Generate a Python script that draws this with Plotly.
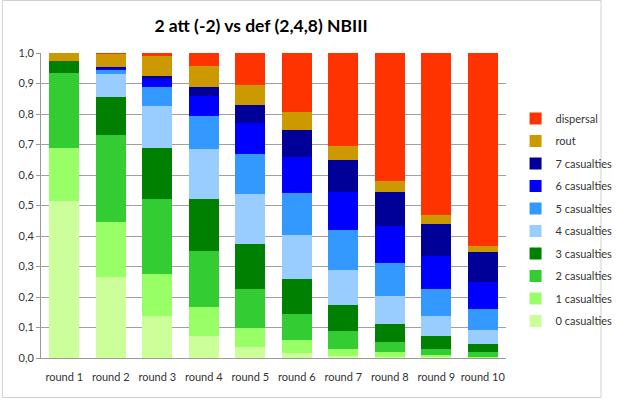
import plotly.graph_objects as go

rounds = ["round 1", "round 2", "round 3", "round 4", "round 5",
          "round 6", "round 7", "round 8", "round 9", "round 10"]

cas0 = [0.515, 0.266, 0.139, 0.071, 0.035, 0.017, 0.008, 0.004, 0.002, 0.001]
cas1 = [0.175, 0.181, 0.137, 0.097, 0.063, 0.041, 0.023, 0.015, 0.009, 0.003]
cas2 = [0.246, 0.284, 0.246, 0.184, 0.129, 0.087, 0.056, 0.034, 0.020, 0.015]
cas3 = [0.038, 0.125, 0.168, 0.169, 0.147, 0.115, 0.088, 0.059, 0.042, 0.026]
cas4 = [0.000, 0.074, 0.136, 0.165, 0.164, 0.144, 0.114, 0.092, 0.066, 0.048]
cas5 = [0.000, 0.017, 0.063, 0.108, 0.132, 0.136, 0.131, 0.109, 0.088, 0.067]
cas6 = [0.000, 0.004, 0.027, 0.065, 0.101, 0.120, 0.125, 0.121, 0.106, 0.088]
cas7 = [0.000, 0.002, 0.009, 0.029, 0.058, 0.088, 0.105, 0.111, 0.107, 0.099]
rout = [0.026, 0.046, 0.066, 0.069, 0.066, 0.058, 0.045, 0.036, 0.028, 0.020]
dispersal = [0.000, 0.001, 0.009, 0.043, 0.105, 0.194, 0.305, 0.419, 0.532, 0.633]

series = [
    ("0 casualties", cas0, "#CCFF99"),
    ("1 casualties", cas1, "#99FF66"),
    ("2 casualties", cas2, "#33CC33"),
    ("3 casualties", cas3, "#008000"),
    ("4 casualties", cas4, "#99CCFF"),
    ("5 casualties", cas5, "#3399FF"),
    ("6 casualties", cas6, "#0000FF"),
    ("7 casualties", cas7, "#000099"),
    ("rout", rout, "#CC9900"),
    ("dispersal", dispersal, "#FF3300"),
]

fig = go.Figure()
for i, (name, vals, col) in enumerate(series):
    fig.add_trace(go.Bar(x=rounds, y=vals, name=name, marker_color=col,
                         marker_line_width=0, legendgroup=name,
                         legendrank=1000 - i))

W, H = 630, 400
ml, mr, mt, mb = 41, 102, 53, 42
pw, ph = W - ml - mr, H - mt - mb

fig.update_layout(
    width=W, height=H,
    margin=dict(l=ml, r=mr, t=mt, b=mb),
    barmode="stack", bargap=0.36,
    plot_bgcolor="white", paper_bgcolor="white",
    font=dict(family="Lato, Open Sans, sans-serif", size=11, color="#222"),
    title=dict(text="<b>2 att (-2) vs def (2,4,8) NBIII</b>",
               x=261 / W, xanchor="center", y=1 - 26 / H, yanchor="middle",
               font=dict(family="Lato, Open Sans, sans-serif", size=17.5, color="black")),
    xaxis=dict(showline=True, linecolor="#999", linewidth=1, ticks="",
               tickfont=dict(size=11, color="#333"), ticklabelstandoff=9),
    yaxis=dict(range=[0, 1], dtick=0.1, tickformat=".1f", showgrid=True,
               gridcolor="#A0A0A0", gridwidth=1, showline=True, linecolor="#999",
               ticks="outside", ticklen=4, tickcolor="#999",
               tickfont=dict(size=11, color="#333"), zeroline=False),
    separators=", ",
    legend=dict(x=1 + 10 / pw, xanchor="left", y=1 - 51 / ph, yanchor="top",
                traceorder="grouped", tracegroupgap=3.5,
                font=dict(size=11, color="#333"), bgcolor="rgba(0,0,0,0)"),
    shapes=[dict(type="rect", xref="paper", yref="paper",
                 x0=-(ml - 0.5) / pw, x1=1 + (mr - 2.5) / pw,
                 y0=-(mb - 2.5) / ph, y1=1 + (mt - 0.5) / ph,
                 line=dict(color="#D0D0D0", width=1))],
)

fig.write_html("out.html", config={"displayModeBar": False},
               post_script="document.body.style.margin='0';document.body.style.padding='0';document.body.style.overflow='hidden';")
